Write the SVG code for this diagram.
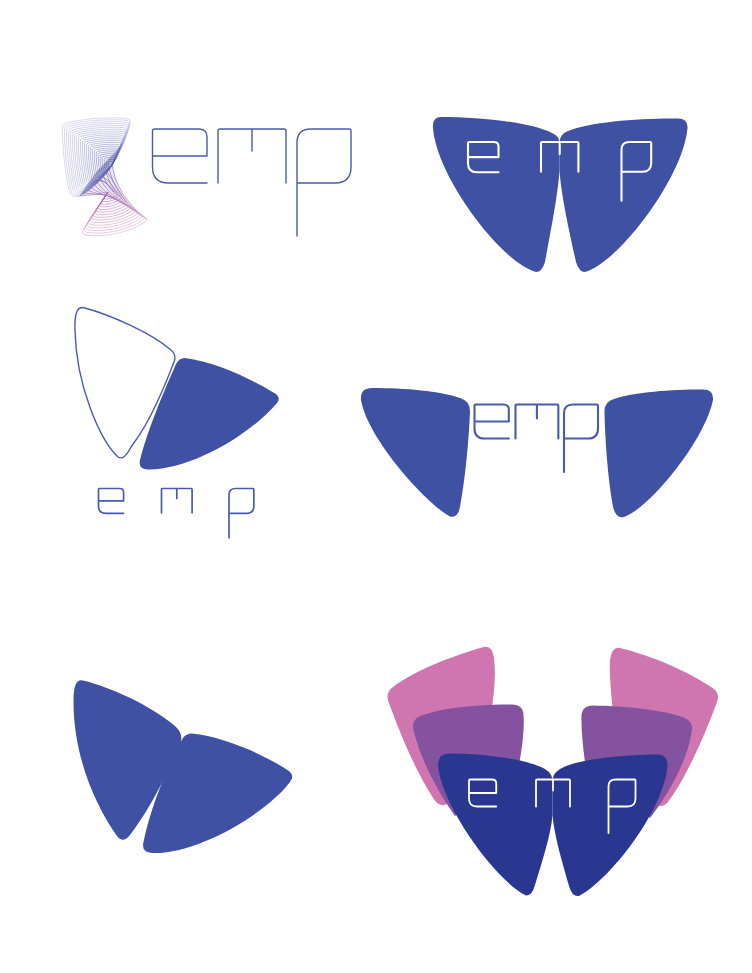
<svg xmlns="http://www.w3.org/2000/svg" width="752" height="973" viewBox="0 0 752 973">
<style>
.b{fill:#3F51A3}
.t{fill:none;stroke-linecap:round;stroke-linejoin:round;vector-effect:non-scaling-stroke}
.h{fill:none;stroke-width:.55;vector-effect:non-scaling-stroke}
</style>
<defs>
<linearGradient id="w" gradientUnits="userSpaceOnUse" x1="0" y1="165" x2="0" y2="215"><stop offset="0" stop-color="#4f55ab"/><stop offset="1" stop-color="#c06cb0"/></linearGradient>
<path id="e" class="t" d="M0 27H54.5V8Q54.5 0 46 0H2Q0 0 0 2V38Q0 54 16 54H54.5"/>
<path id="m" class="t" d="M0 54V2Q0 0 2 0H66Q68 0 68 2V54M34 0V22"/>
<path id="p" class="t" d="M0 107V14Q0 0 14 0H52Q54 0 54 2V38Q54 54 38 54H0"/>
<path id="u" class="h" d="M-33 31.5Q-42 33-43 25C-47 5-50-20-49.5-38Q-49-41-46-42C-27-47 3-48 15-46.5Q19-46 18-41C14-25 6-10 0 0C-8 13-20 25-33 31.5Z"/>
<path id="l" class="h" d="M38 25Q40 28 37 30C22 40-3 46-22 43Q-27 42-25 38C-18 26-8 13 0 0"/>
</defs>
<rect width="752" height="973" fill="#fff"/>
<g id="logo-1">
<g id="blend-upper" transform="translate(112 165)">
<use href="#u" stroke="#b9bcde"/><use href="#u" stroke="#b7badd" transform="scale(.96)"/><use href="#u" stroke="#b4b8dc" transform="scale(.92)"/><use href="#u" stroke="#b1b5db" transform="scale(.88)"/><use href="#u" stroke="#aeb2da" transform="scale(.84)"/><use href="#u" stroke="#abafd8" transform="scale(.8)"/><use href="#u" stroke="#a7acd7" transform="scale(.76)"/><use href="#u" stroke="#a3a8d5" transform="scale(.72)"/><use href="#u" stroke="#9fa4d3" transform="scale(.68)"/><use href="#u" stroke="#9a9fd1" transform="scale(.64)"/><use href="#u" stroke="#959bcf" transform="scale(.6)"/><use href="#u" stroke="#9096cc" transform="scale(.56)"/><use href="#u" stroke="#8b91ca" transform="scale(.52)"/><use href="#u" stroke="#858bc7" transform="scale(.48)"/><use href="#u" stroke="#7f85c4" transform="scale(.44)"/><use href="#u" stroke="#797fc1" transform="scale(.4)"/><use href="#u" stroke="#7379bd" transform="scale(.36)"/><use href="#u" stroke="#6d73ba" transform="scale(.32)"/><use href="#u" stroke="#666cb6" transform="scale(.28)"/><use href="#u" stroke="#6066b3" transform="scale(.24)"/><use href="#u" stroke="#5a60b0" transform="scale(.2)"/><use href="#u" stroke="#555bad" transform="scale(.16)"/><use href="#u" stroke="#5056aa" transform="scale(.12)"/><use href="#u" stroke="#4c52a8" transform="scale(.08)"/>
</g>
<path fill="#4c54a8" opacity=".5" d="M79 196.5C92 190 104 178 112 165C116 158 120 150 123 142C116 152 106 162 98 170C90 180 84 190 79 196.5Z"/>
<path fill="#8a5aa8" opacity=".16" d="M112 165Q116 195 147 220L108 192L80 196C92 190 104 178 112 165Z"/>
<g id="blend-waist" stroke="url(#w)">
<path class="h" d="M80 196Q95 195 108 192"/>
<path class="h" d="M83.2 192.9Q97 195 111.9 194.8"/>
<path class="h" d="M86.4 189.8Q99 195 115.8 197.6"/>
<path class="h" d="M89.6 186.7Q101 195 119.7 200.4"/>
<path class="h" d="M92.8 183.6Q103 195 123.6 203.2"/>
<path class="h" d="M96 180.5Q105 195 127.5 206"/>
<path class="h" d="M99.2 177.4Q108 195 131.4 208.8"/>
<path class="h" d="M102.4 174.3Q110 195 135.3 211.6"/>
<path class="h" d="M105.6 171.2Q112 195 139.2 214.4"/>
<path class="h" d="M108.8 168.1Q114 195 143.1 217.2"/>
<path class="h" d="M112 165Q116 195 147 220"/>
<path class="h" d="M90 186Q100 172 114 192"/>
<path class="h" d="M95 181Q104 176 118 196"/>
<path class="h" d="M100 176Q107 176 122 199"/>
<path class="h" d="M106 170Q111 178 126 202"/>
</g>
<g id="blend-lower" transform="translate(108 192)">
<use href="#l" stroke="#dca6cf"/><use href="#l" stroke="#daa0cc" transform="scale(.94)"/><use href="#l" stroke="#d89bca" transform="scale(.88)"/><use href="#l" stroke="#d696c7" transform="scale(.82)"/><use href="#l" stroke="#d490c4" transform="scale(.76)"/><use href="#l" stroke="#d18ac1" transform="scale(.7)"/><use href="#l" stroke="#ce84be" transform="scale(.64)"/><use href="#l" stroke="#ca7eba" transform="scale(.58)"/><use href="#l" stroke="#c678b7" transform="scale(.52)"/><use href="#l" stroke="#c272b4" transform="scale(.46)"/><use href="#l" stroke="#bd6cb1" transform="scale(.4)"/><use href="#l" stroke="#b866ae" transform="scale(.34)"/><use href="#l" stroke="#b360aa" transform="scale(.28)"/><use href="#l" stroke="#ae5aa7" transform="scale(.22)"/><use href="#l" stroke="#a954a4" transform="scale(.16)"/>
</g>
<g stroke="#4A5BAD" stroke-width="1.4">
<use href="#e" transform="translate(152.5 129)"/><use href="#m" transform="translate(218 129)"/><use href="#p" transform="translate(297 129)"/>
</g>
</g>
<g id="logo-2">
<path class="b" d="M441 117C480 117 530 122 552 133Q559 136 559.5 142L559.5 170C558 195 550 235 545 262Q542 272 536 272C500 262 436 175 433 128Q432 117 441 117Z"/>
<path class="b" d="M678 118.5C640 118 590 122 568 131Q560 134 559.5 142L559.5 170C561 195 570 235 576 262Q579 272 585 272C620 262 684 175 687.5 128Q688 118.5 678 118.5Z"/>
<g stroke="#fff" stroke-width="2.1">
<use href="#e" transform="translate(468 142) scale(.56)"/><use href="#m" transform="translate(541 142) scale(.55)"/><use href="#p" transform="translate(621.5 142) scale(.55)"/>
</g>
</g>
<g id="logo-3">
<path fill="#fff" stroke="#4A5BAD" stroke-width="1.4" d="M85 308C110 315 150 332 171 350Q177 355 174 362C169 375 163 390 156.7 403C150 418 140 435 131 447Q124 461 118 457C100 440 76 385 75 330Q74 304 85 308Z"/>
<path class="b" d="M185 358C215 362 250 378 276 394Q281 398 277 403C250 435 190 470 148 469.5Q138 469 140 460C146 435 160 400 176 364Q179 358 185 358Z"/>
<g stroke="#4A5BAD" stroke-width="1.7">
<use href="#e" transform="translate(98.5 488.5) scale(.46)"/><use href="#m" transform="translate(161.5 488.5) scale(.45)"/><use href="#p" transform="translate(229 488.5) scale(.46)"/>
</g>
</g>
<g id="logo-4">
<path class="b" d="M372 388C405 388 440 391 460 398Q470 401 470 411C469 440 465 480 460 507Q458 518 450 516.5C428 505 368 440 361 400Q360 388 372 388Z"/>
<path class="b" d="M703 389.5C670 389.5 635 392 614 399Q604 402 604.5 412C605 440 608 480 613 507Q616 519 624 517C650 508 705 440 713 400Q714 389.5 703 389.5Z"/>
<g stroke="#4A5BAD" stroke-width="2.1">
<use href="#e" transform="translate(474.5 404.5) scale(.63)"/><use href="#m" transform="translate(515.5 404.5) scale(.63)"/><use href="#p" transform="translate(564 404.5) scale(.63)"/>
</g>
</g>
<g id="logo-5">
<path class="b" d="M83 680.5C110 687 150 705 175 726Q183 733 181 742C176 753 170 766 165 777C155 797 143 818 130 835Q123 844 117 836C95 805 73 755 73.5 700Q73.5 678 83 680.5Z"/>
<path class="b" d="M192 733.5C225 737 265 755 289 771Q295 776 290 782C265 815 195 855 152 853Q141 852 143.5 842C148 820 156 797 165 775C170 762 176 750 183 738Q186 733.5 192 733.5Z"/>
</g>
<g id="logo-6">
<path fill="#CF76B0" d="M484 647C455 655 415 670 393 687Q386 692 388 700C400 735 420 780 436 802Q441 807 447 804L470 790L490 720Q497 680 494 658Q492 645 484 647Z"/>
<path fill="#CF76B0" d="M620 648C650 655 690 672 714 689Q720 694 717 702C705 735 685 780 668 802Q663 808 657 805L630 790L614 720Q609 680 610 660Q612 646 620 648Z"/>
<path fill="#84529F" d="M512 704.5C480 704 440 708 420 716Q412 720 413 728C420 760 440 795 455 816L518 770Q525 735 523.5 715Q523 704.5 512 704.5Z"/>
<path fill="#84529F" d="M593 705.5C625 706 665 710 685 718Q693 722 692 730C688 760 668 795 650 818L586 770Q581 735 581.5 716Q582 705.5 593 705.5Z"/>
<path fill="#293791" d="M449 753.5C480 753.5 520 758 541 767Q551 771 552.5 779L552.5 815C551 835 541 865 535 885Q532 896 526 895.5C495 880 441 805 438 765Q438 753.5 449 753.5Z"/>
<path fill="#293791" d="M657 754.5C625 755 585 758 564 767Q554 771 552.5 779L552.5 815C554 835 563 865 569 886Q572 897 579 896C610 880 664 810 667.5 766Q668 754.5 657 754.5Z"/>
<g stroke="#fff" stroke-width="1.8">
<use href="#e" transform="translate(469 779.5) scale(.5)"/><use href="#m" transform="translate(536 779.5) scale(.5)"/><use href="#p" transform="translate(608.5 779.5) scale(.5)"/>
</g>
</g>
</svg>
